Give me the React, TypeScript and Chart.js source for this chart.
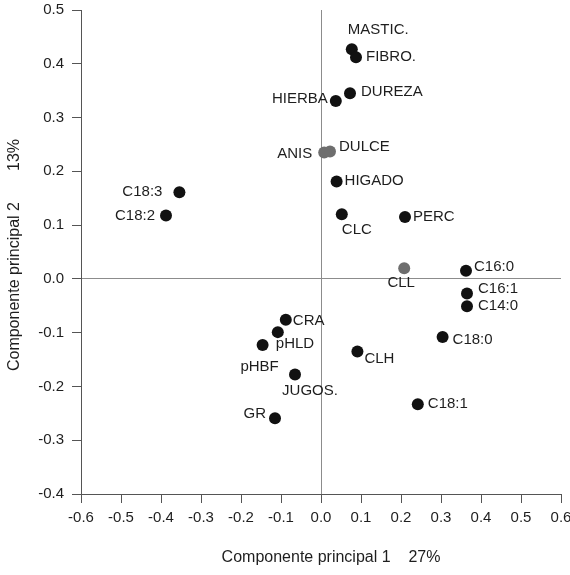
import React, { useEffect, useRef } from "react";
import { Chart, registerables } from "chart.js";

Chart.register(...registerables);

// ---- data ----
const names = [
  "MASTIC.", "FIBRO.", "DUREZA", "HIERBA", "ANIS", "DULCE", "HIGADO", "CLC", "PERC",
  "C18:3", "C18:2", "CLL", "C16:0", "C16:1", "C14:0", "C18:0",
  "CRA", "pHLD", "pHBF", "JUGOS.", "GR", "CLH", "C18:1",
];
const pc1 = [
  0.077, 0.0875, 0.0725, 0.037, 0.008, 0.0225, 0.039, 0.052, 0.21,
  -0.354, -0.3875, 0.208, 0.3625, 0.365, 0.365, 0.304,
  -0.088, -0.108, -0.146, -0.065, -0.115, 0.091, 0.242,
];
const pc2 = [
  0.427, 0.412, 0.345, 0.331, 0.235, 0.237, 0.181, 0.12, 0.115,
  0.161, 0.118, 0.02, 0.015, -0.027, -0.051, -0.108,
  -0.076, -0.099, -0.123, -0.178, -0.259, -0.135, -0.233,
];
const grayNames = ["ANIS", "DULCE", "CLL"];

const xTickValues = [-0.6, -0.5, -0.4, -0.3, -0.2, -0.1, 0, 0.1, 0.2, 0.3, 0.4, 0.5, 0.6];
const xTickLabels = ["-0.6", "-0.5", "-0.4", "-0.3", "-0.2", "-0.1", "0.0", "0.1", "0.2", "0.3", "0.4", "0.5", "0.6"];
const yTickValues = [-0.4, -0.3, -0.2, -0.1, 0, 0.1, 0.2, 0.3, 0.4, 0.5];
const yTickLabels = ["-0.4", "-0.3", "-0.2", "-0.1", "0.0", "0.1", "0.2", "0.3", "0.4", "0.5"];

const xTitle = "Componente principal 1    27%";
const yTitle = "Componente principal 2       13%";

// ---- label placement (style) ----
const labelPlacement: Record<string, [CanvasTextAlign, number, number]> = {
  "MASTIC.": ["left", -4, -19],
  "FIBRO.": ["left", 10, 0],
  "DUREZA": ["left", 11, -1],
  "HIERBA": ["right", -8, -2],
  "ANIS": ["right", -12, 1],
  "DULCE": ["left", 9, -5],
  "HIGADO": ["left", 8, -1],
  "CLC": ["left", 0, 16],
  "PERC": ["left", 8, 0],
  "C18:3": ["right", -17, 0],
  "C18:2": ["right", -11, 0],
  "CLL": ["center", -3, 15],
  "C16:0": ["left", 8, -4],
  "C16:1": ["left", 11, -5],
  "C14:0": ["left", 11, 0],
  "C18:0": ["left", 10, 3],
  "CRA": ["left", 7, 1],
  "pHLD": ["left", -2, 12],
  "pHBF": ["center", -3, 22],
  "JUGOS.": ["center", 15, 16],
  "GR": ["right", -9, -4],
  "CLH": ["left", 7, 7],
  "C18:1": ["left", 10, 0],
};

const FONT = "'Liberation Sans', Arial, sans-serif";
const TEXT = "#1e1e1e";

const labelsPlugin = {
  id: "pointLabels",
  afterDatasetsDraw(chart: any) {
    const ctx = chart.ctx;
    const meta = chart.getDatasetMeta(0);
    ctx.save();
    ctx.font = `15px ${FONT}`;
    ctx.fillStyle = TEXT;
    ctx.textBaseline = "middle";
    meta.data.forEach((pt: any, i: number) => {
      const p = labelPlacement[names[i]] || ["left", 8, 0];
      ctx.textAlign = p[0];
      ctx.fillText(names[i], pt.x + p[1], pt.y + p[2]);
    });
    ctx.restore();
  },
};

const titlesPlugin = {
  id: "axisTitles",
  afterDraw(chart: any) {
    const ctx = chart.ctx;
    const a = chart.chartArea;
    ctx.save();
    ctx.font = `16px ${FONT}`;
    ctx.fillStyle = TEXT;
    ctx.textAlign = "center";
    ctx.textBaseline = "middle";
    ctx.fillText(xTitle, (a.left + a.right) / 2 + 10, 558);
    ctx.translate(15, (a.top + a.bottom) / 2 + 3);
    ctx.rotate(-Math.PI / 2);
    ctx.fillText(yTitle, 0, 0);
    ctx.restore();
  },
};

export default function App() {
  const ref = useRef<HTMLCanvasElement>(null);
  useEffect(() => {
    document.body.style.margin = "0";
    const canvas = ref.current!;
    const zeroGrid = (c: any) => (c.tick && c.tick.value === 0 ? "#8c8c8c" : "rgba(0,0,0,0)");
    const chart = new Chart(canvas, {
      type: "scatter",
      data: {
        datasets: [
          {
            data: names.map((_, i) => ({ x: pc1[i], y: pc2[i] })),
            pointBackgroundColor: names.map((n) => (grayNames.includes(n) ? "#6e6e6e" : "#111111")),
            pointBorderWidth: 0,
            pointRadius: 6,
            pointHoverRadius: 6,
          },
        ],
      },
      options: {
        responsive: false,
        animation: false,
        devicePixelRatio: 1,
        layout: { padding: { top: 10, right: 9, left: 0, bottom: 0 } },
        plugins: { legend: { display: false }, tooltip: { enabled: false } },
        scales: {
          x: {
            type: "linear",
            min: -0.6,
            max: 0.6,
            afterBuildTicks: (s: any) => {
              s.ticks = xTickValues.map((v) => ({ value: v }));
            },
            afterFit: (s: any) => {
              s.height = 81;
              s.paddingLeft = 0;
              s.paddingRight = 0;
            },
            ticks: {
              callback: (_v: any, i: number) => xTickLabels[i],
              font: { family: FONT, size: 15 },
              color: TEXT,
              padding: 6,
              maxRotation: 0,
              autoSkip: false,
            },
            grid: { color: zeroGrid, tickColor: "#555", tickLength: 9, lineWidth: 1 },
            border: { display: true, color: "#555", width: 1 },
          },
          y: {
            type: "linear",
            min: -0.4,
            max: 0.5,
            afterBuildTicks: (s: any) => {
              s.ticks = yTickValues.map((v) => ({ value: v }));
            },
            afterFit: (s: any) => {
              s.width = 81;
              s.paddingTop = 0;
              s.paddingBottom = 0;
            },
            ticks: {
              callback: (_v: any, i: number) => yTickLabels[i],
              font: { family: FONT, size: 15 },
              color: TEXT,
              padding: 8,
              autoSkip: false,
            },
            grid: { color: zeroGrid, tickColor: "#555", tickLength: 9, lineWidth: 1 },
            border: { display: true, color: "#555", width: 1 },
          },
        },
      },
      plugins: [labelsPlugin, titlesPlugin],
    });
    return () => chart.destroy();
  }, []);
  return <canvas ref={ref} width={570} height={575} style={{ display: "block" }} />;
}
